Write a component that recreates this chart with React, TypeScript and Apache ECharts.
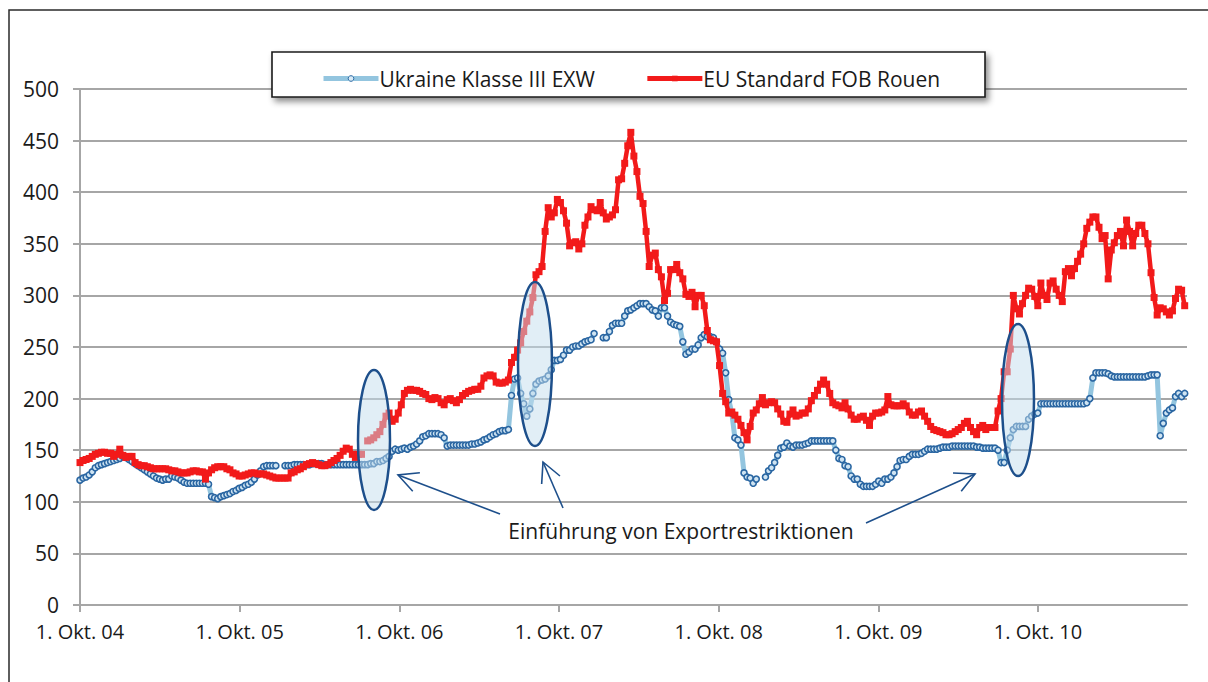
import React, { useEffect, useRef } from "react";
import * as echarts from "echarts";

// Week 0 = 1. Okt. 2004, one value per week
const xTickYears = [0, 1, 2, 3, 4, 5, 6];
const xTickLabels = ["1. Okt. 04", "1. Okt. 05", "1. Okt. 06", "1. Okt. 07", "1. Okt. 08", "1. Okt. 09", "1. Okt. 10"];
const seriesNames = ["Ukraine Klasse III EXW", "EU Standard FOB Rouen"];
const annotationText = "Einführung von Exportrestriktionen";

const ukraine: (number | null)[] = [
  121, 123, 124, 126, 129, 133, 135, 136, 137, 138,
  139, 140, 141, 142, 144, 143, 141, 139, 137, 135,
  133, 131, 129, 127, 125, 123, 122, 121, 122, 122,
  125, 124, 123, 121, 119, 118, 118, 118, 118, 118,
  118, 118, 117, 105, 104, 103, 105, 106, 107, 108,
  110, 111, 113, 114, 116, 117, 119, 122, 126, 130,
  134, 135, 135, 135, 135, null, null, 135, 135, 135,
  136, 136, 136, 136, 136, 136, 137, 137, 137, 137,
  136, 136, 136, 136, 136, 136, 136, 136, 136, 136,
  136, 136, 136, 136, 136, 137, 137, 139, 139, 140,
  142, 144, 149, 151, 150, 151, 152, 151, 153, 154,
  156, 159, 163, 164, 166, 166, 166, 166, 165, 162,
  154, 155, 155, 155, 155, 155, 155, 155, 156, 156,
  157, 158, 160, 161, 163, 165, 166, 168, 169, 169,
  170, 203, 219, 220, 205, 195, 183, 190, 205, 214,
  217, 218, 219, 222, 228, 237, 237, 238, 242, 247,
  247, 250, 251, 251, 253, 255, 256, 257, 263, null,
  null, 259, 259, 265, 271, 273, 273, 273, 280, 285,
  286, 288, 290, 292, 292, 292, 289, 286, 285, 280,
  288, 288, 280, 274, 272, 271, 270, 255, 243, 245,
  248, 248, 252, 259, 262, 260, 260, 259, 255, 248,
  244, 225, 199, 186, 162, 160, 155, 128, 124, 123,
  118, 122, null, null, 124, 130, 133, 138, 145, 152,
  153, 157, 154, 153, 155, 155, 155, 156, 157, 159,
  159, 159, 159, 159, 159, 159, 159, 150, 142, 141,
  135, 134, 125, 122, 122, 117, 115, 115, 115, 115,
  117, 120, 118, 122, 122, 124, 128, 134, 140, 141,
  141, 144, 146, 146, 146, 147, 149, 151, 151, 151,
  151, 152, 153, 153, 153, 154, 154, 154, 154, 154,
  154, 154, 154, 153, 153, 152, 152, 152, 152, 152,
  150, 138, 138, 150, 162, 170, 173, 173, 173, 173,
  180, 183, 185, 186, 195, 195, 195, 195, 195, 195,
  195, 195, 195, 195, 195, 195, 195, 195, 195, 196,
  200, 220, 225, 225, 225, 225, 224, 222, 221, 221,
  221, 221, 221, 221, 221, 221, 221, 221, 221, 222,
  223, 223, 223, 164, 176, 186, 189, 191, 202, 205,
  202, 205,
];

const euRouen: (number | null)[] = [
  138, 140, 141, 142, 144, 146, 147, 148, 148, 147,
  147, 144, 146, 151, 145, 143, 144, 144, 138, 136,
  135, 135, 134, 133, 132, 132, 132, 132, 132, 131,
  130, 130, 129, 128, 128, 128, 129, 130, 130, 129,
  129, 122, 128, 131, 133, 134, 134, 134, 132, 131,
  128, 127, 125, 125, 126, 127, 128, 128, 127, 127,
  127, 126, 125, 124, 123, 123, 123, 123, 123, 128,
  129, 131, 132, 134, 136, 137, 138, 137, 136, 135,
  135, 136, 138, 140, 142, 145, 149, 152, 151, 146,
  143, 146, 146, null, 159, 160, 162, 165, 168, 175,
  183, 186, 178, 180, 186, 194, 205, 208, 209, 208,
  208, 207, 205, 204, 200, 199, 201, 200, 196, 194,
  199, 200, 198, 196, 199, 203, 205, 207, 208, 209,
  209, 212, 220, 222, 223, 222, 216, 215, 215, 216,
  218, 235, 240, 247, 254, 265, 275, 284, 298, 320,
  323, 328, 362, 385, 376, 380, 393, 390, 382, 370,
  348, 351, 352, 345, 350, 368, 376, 386, 383, 382,
  390, 380, 374, 376, 378, 383, 412, 413, 428, 445,
  458, 435, 420, 396, 389, 362, 328, 339, 341, 325,
  318, 295, 302, 325, 325, 330, 322, 316, 301, 299,
  303, 289, 300, 300, 290, 266, 257, 256, 255, 232,
  205, 197, 186, 187, 184, 180, 174, 167, 160, 173,
  186, 189, 195, 201, 194, 196, 197, 196, 190, 185,
  178, 177, 185, 189, 183, 184, 186, 186, 190, 198,
  203, 208, 214, 218, 214, 205, 196, 194, 193, 191,
  196, 190, 184, 180, 180, 182, 183, 179, 174, 183,
  186, 186, 187, 189, 202, 194, 193, 193, 193, 195,
  193, 187, 184, 184, 187, 188, 183, 178, 173, 170,
  169, 168, 167, 165, 165, 166, 168, 170, 172, 176,
  178, 172, 168, 165, 172, 174, 170, 172, 172, 172,
  188, 200, 226, 226, 248, 300, 287, 282, 292, 300,
  307, 306, 299, 290, 312, 300, 296, 312, 314, 306,
  300, 294, 323, 326, 319, 326, 333, 340, 350, 365,
  371, 376, 376, 366, 355, 358, 316, 344, 351, 358,
  362, 348, 373, 362, 348, 360, 368, 368, 360, 350,
  322, 298, 281, 288, 287, 284, 281, 285, 297, 306,
  305, 290,
];

const WEEKS_PER_YEAR = 365.25 / 7;
const FONT = "'Open Sans', sans-serif";
const GRID_COLOR = "#a6a6a6";
const ANNO_COLOR = "#1d4f8b";
const BLUE_LINE = "#93c5df";
const BLUE_MARK = "#2a66a2";
const RED = "#f21a1a";

function arrow(x1: number, y1: number, x2: number, y2: number) {
  const a = Math.atan2(y2 - y1, x2 - x1);
  const L = 22;
  const t = (27 * Math.PI) / 180;
  const p1 = [x2 - L * Math.cos(a - t), y2 - L * Math.sin(a - t)];
  const p2 = [x2 - L * Math.cos(a + t), y2 - L * Math.sin(a + t)];
  return [
    { type: "line", z: 20, shape: { x1, y1, x2, y2 }, style: { stroke: ANNO_COLOR, lineWidth: 1.6 } },
    { type: "polyline", z: 20, shape: { points: [p1, [x2, y2], p2] }, style: { stroke: ANNO_COLOR, lineWidth: 1.6, fill: null } },
  ];
}

function ellipse(cx: number, cy: number, rx: number, ry: number) {
  return {
    type: "ellipse",
    z: 20,
    shape: { cx, cy, rx, ry },
    style: { fill: "rgba(196,222,238,0.5)", stroke: ANNO_COLOR, lineWidth: 2.5 },
  };
}

export default function App() {
  const ref = useRef<HTMLDivElement>(null);
  useEffect(() => {
    if (!ref.current) return;
    const chart = echarts.init(ref.current, undefined, { renderer: "svg" });
    const toPairs = (arr: (number | null)[]) => arr.map((v, i) => [i / WEEKS_PER_YEAR, v]);
    chart.setOption({
      animation: false,
      backgroundColor: "#ffffff",
      grid: { left: 80, right: 21, top: 89, bottom: 77, containLabel: false },
      legend: {
        left: 316,
        top: 63,
        itemWidth: 55,
        itemHeight: 7,
        itemGap: 50,
        selectedMode: false,
        textStyle: { fontFamily: FONT, fontSize: 21, color: "#1a1a1a", padding: [0, 0, 0, -4] },
        data: [
          {
            name: seriesNames[0],
            lineStyle: { color: BLUE_LINE, width: 5 },
            itemStyle: { color: "#d8eaf5", borderColor: BLUE_MARK, borderWidth: 1 },
          },
          {
            name: seriesNames[1],
            lineStyle: { color: RED, width: 5 },
            itemStyle: { color: RED },
          },
        ],
        z: 6,
      },
      xAxis: {
        type: "value",
        min: 0,
        max: 6.933,
        axisLine: { show: true, lineStyle: { color: GRID_COLOR, width: 2 } },
        axisTick: { show: true, length: 7, customValues: xTickYears, lineStyle: { color: GRID_COLOR, width: 2 } },
        axisLabel: {
          customValues: xTickYears,
          formatter: (v: number) => xTickLabels[Math.round(v)] ?? "",
          fontFamily: FONT,
          fontSize: 20,
          color: "#1a1a1a",
          margin: 16,
        },
        splitLine: { show: false },
      },
      yAxis: {
        type: "value",
        min: 0,
        max: 500,
        interval: 50,
        axisLine: { show: true, lineStyle: { color: GRID_COLOR, width: 2 } },
        axisTick: { show: true, length: 7, lineStyle: { color: GRID_COLOR, width: 2 } },
        axisLabel: { fontFamily: FONT, fontSize: 21, color: "#1a1a1a", margin: 21 },
        splitLine: { show: true, lineStyle: { color: GRID_COLOR, width: 2 } },
      },
      series: [
        {
          name: seriesNames[0],
          type: "line",
          data: toPairs(ukraine),
          symbol: "circle",
          symbolSize: 6,
          showAllSymbol: true,
          lineStyle: { color: BLUE_LINE, width: 5 },
          itemStyle: { color: "#cfe4f2", borderColor: BLUE_MARK, borderWidth: 1.6 },
          z: 2,
        },
        {
          name: seriesNames[1],
          type: "line",
          data: toPairs(euRouen),
          symbol: "rect",
          symbolSize: 7,
          showAllSymbol: true,
          lineStyle: { color: RED, width: 4.5 },
          itemStyle: { color: RED },
          z: 3,
        },
      ],
      graphic: [
        {
          type: "rect",
          z: 0,
          silent: true,
          shape: { x: 9, y: 10, width: 1240, height: 720 },
          style: { fill: null, stroke: "#2a2a2a", lineWidth: 1.5 },
        },
        {
          type: "rect",
          z: 5,
          shape: { x: 272, y: 52, width: 713, height: 45 },
          style: {
            fill: "#ffffff",
            stroke: "#1a1a1a",
            lineWidth: 1.6,
            shadowBlur: 6,
            shadowOffsetX: 3,
            shadowOffsetY: 4,
            shadowColor: "rgba(0,0,0,0.45)",
          },
        },
        ellipse(374, 440, 16, 70),
        ellipse(535, 364, 17, 82),
        ellipse(1018, 400, 16, 76),
        ...arrow(500, 514, 398, 475),
        ...arrow(563, 508, 543, 462),
        ...arrow(866, 523, 975, 474),
        {
          type: "text",
          z: 20,
          style: {
            x: 681,
            y: 531,
            text: annotationText,
            textAlign: "center",
            textVerticalAlign: "middle",
            fontFamily: FONT,
            fontSize: 21,
            fill: "#1a1a1a",
          },
        },
      ],
    });
    return () => chart.dispose();
  }, []);
  return (
    <div
      ref={ref}
      style={{ position: "fixed", left: 0, top: 0, width: 1208, height: 682, background: "#fff" }}
    />
  );
}
